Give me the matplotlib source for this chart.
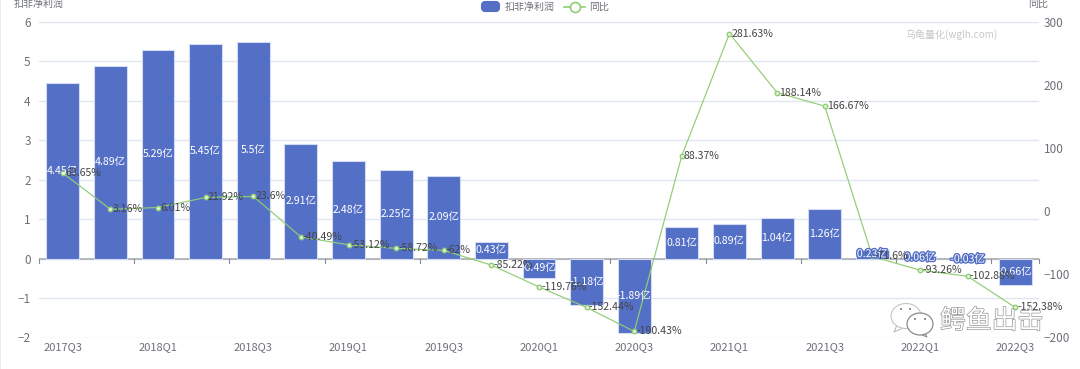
import matplotlib
matplotlib.use("Agg")
import matplotlib.pyplot as plt
import matplotlib.patheffects as pe
from matplotlib.patches import Ellipse, FancyBboxPatch, Polygon, Rectangle

plt.rcParams['font.family'] = ['Noto Sans CJK SC', 'DejaVu Sans']

# datos
quarters = ['2017Q3', '2017Q4', '2018Q1', '2018Q2', '2018Q3', '2018Q4', '2019Q1',
            '2019Q2', '2019Q3', '2019Q4', '2020Q1', '2020Q2', '2020Q3', '2020Q4',
            '2021Q1', '2021Q2', '2021Q3', '2021Q4', '2022Q1', '2022Q2', '2022Q3']
profit = [4.45, 4.89, 5.29, 5.45, 5.5, 2.91, 2.48, 2.25, 2.09, 0.43, -0.49, -1.18,
          -1.89, 0.81, 0.89, 1.04, 1.26, 0.23, 0.06, -0.03, -0.66]
yoy = [60.65, 3.16, 6.01, 21.92, 23.6, -40.49, -53.12, -58.72, -62, -85.22, -119.76,
       -152.44, -190.43, 88.37, 281.63, 188.14, 166.67, -71.6, -93.26, -102.88, -152.38]
profit_ticks = [-2, -1, 0, 1, 2, 3, 4, 5, 6]
yoy_ticks = [-200, -100, 0, 100, 200, 300]

BAR = '#5470c6'
LINE = '#91cc75'
GREY = '#6e7079'
W, H = 1080, 369

fig = plt.figure(figsize=(W / 100, H / 100), dpi=100, facecolor='white')
ax = fig.add_axes([39 / W, 1 - 337.5 / H, 1000 / W, 315.5 / H])
ax2 = ax.twinx()
x = list(range(len(quarters)))

ax.set_xlim(-0.5, len(quarters) - 0.5)
ax.set_ylim(-2, 6)
ax2.set_ylim(-200, 300)

# rejilla y ejes
ax.set_yticks(profit_ticks)
ax.grid(axis='y', color='#e0e6f1', linewidth=1)
ax.set_axisbelow(True)
for s in ax.spines.values():
    s.set_visible(False)
for s in ax2.spines.values():
    s.set_visible(False)
ax.axhline(0, color='#b0b1b8', linewidth=1.3, zorder=1.5)

ax.bar(x, profit, width=0.69, color=BAR, edgecolor='#d3dbf3', linewidth=0.8, zorder=2)

ax.set_xticks([])
ax.tick_params(axis='y', length=0, labelsize=8.5, labelcolor=GREY, pad=6)
for i in x[::2] + [len(quarters)]:
    ax.plot([i - 0.5, i - 0.5], [0, -0.1], color='#8a8b94', linewidth=0.8, zorder=1.6,
            clip_on=False)
for i in x[::2]:
    ax.annotate(quarters[i], (i, -2), xytext=(0, -3.5), textcoords='offset points', ha='center',
                va='top', fontsize=8, color=GREY)
ax2.set_yticks(yoy_ticks)
ax2.tick_params(axis='y', length=0, labelsize=8.5, labelcolor=GREY, pad=3.5)

# la serie va por encima de las barras
ax.set_zorder(1)
ax.patch.set_facecolor('white')
ax2.set_zorder(2)
ax2.patch.set_visible(False)
ax2.plot(x, yoy, color=LINE, linewidth=0.85, marker='o', markersize=3.2, markerfacecolor='#e4f3dc',
         markeredgecolor=LINE, markeredgewidth=1, zorder=3)

# etiquetas de barras: con contorno azul si la barra es pequena
for i, v in zip(x, profit):
    txt = ax2.annotate('%g亿' % v, (i, v / 2), xycoords=ax.transData, ha='center', va='center',
                       fontsize=7.6, color='white', zorder=4)
    if abs(v) < 0.4:
        txt.set_path_effects([pe.withStroke(linewidth=2, foreground=BAR)])

for i, v in zip(x, yoy):
    ax2.annotate('%g%%' % v, (i, v), xytext=(1.5, 0), textcoords='offset points', ha='left',
                 va='center', fontsize=7.6, color='#444444', zorder=5)

# titulos de los ejes
fig.text(14 / W, 1 - 3.5 / H, '扣非净利润', fontsize=7.2, color=GREY, va='center', ha='left')
fig.text(1028 / W, 1 - 3.5 / H, '同比', fontsize=7.2, color=GREY, va='center', ha='left')

# capa en pixeles para leyenda e icono
over = fig.add_axes([0, 0, 1, 1], facecolor='none')
over.set_xlim(0, W)
over.set_ylim(H, 0)
over.axis('off')
over.set_zorder(5)

# leyenda
over.add_patch(FancyBboxPatch((482, 2), 17, 9, boxstyle='round,pad=0,rounding_size=3', fc=BAR,
                              ec=BAR, lw=1.5))
over.text(505, 6.5, '扣非净利润', fontsize=7.2, color=GREY, va='center', ha='left')
over.plot([564, 585], [6.5, 6.5], color=LINE, linewidth=1.2)
over.plot([574.5], [6.5], marker='o', markersize=7.2, markerfacecolor='white', markeredgecolor=LINE,
          markeredgewidth=1.2)
over.text(589, 6.5, '同比', fontsize=7.2, color=GREY, va='center', ha='left')

# marcas de agua
over.text(905, 35, '乌龟量化(wglh.com)', fontsize=7.2, color='#c8c8c8', va='center')
over.text(940, 321, '鳄鱼出击', fontsize=18.6, color='white', va='center',
          path_effects=[pe.withStroke(linewidth=0.9, foreground='#8c8c8c')])
over.add_patch(Polygon([[897, 325], [894, 332], [903, 328]], fc='white', ec='#b5b5b5', lw=0.7))
over.add_patch(Ellipse((906, 316), 30, 25, fc='white', ec='#c4c4c4', lw=0.8))
over.add_patch(Polygon([[924, 331], [927, 337], [918, 333]], fc='white', ec='#8c8c8c', lw=0.8))
over.add_patch(Ellipse((920, 324), 26, 22, fc='white', ec='#8c8c8c', lw=0.9))
for cx, cy in [(901, 309), (910, 309), (915, 319), (925, 319)]:
    over.add_patch(Ellipse((cx, cy), 2, 2, fc='#777777', ec='none'))
# borde gris tenue a la izquierda de la captura
over.add_patch(Rectangle((0, 0), 1.2, H, fc='#ececec', ec='none'))

fig.savefig('out.png', dpi=100)
